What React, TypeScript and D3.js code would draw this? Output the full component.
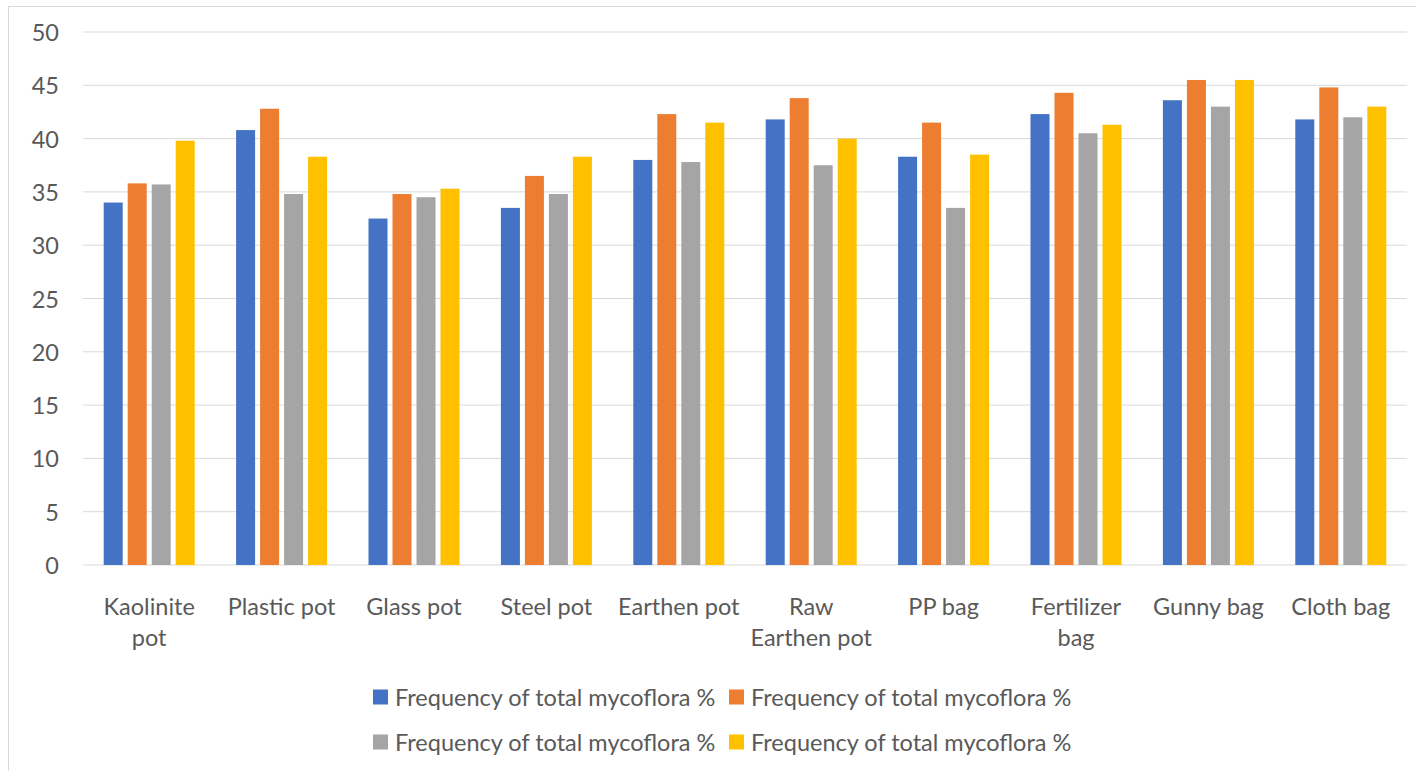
import React from "react";
import * as d3 from "d3";

const categories = [
  "Kaolinite\npot",
  "Plastic pot",
  "Glass pot",
  "Steel pot",
  "Earthen pot",
  "Raw\nEarthen pot",
  "PP bag",
  "Fertilizer\nbag",
  "Gunny bag",
  "Cloth bag",
];

const seriesNames = [
  "Frequency of total mycoflora %",
  "Frequency of total mycoflora %",
  "Frequency of total mycoflora %",
  "Frequency of total mycoflora %",
];

const series1 = [34.0, 40.8, 32.5, 33.5, 38.0, 41.8, 38.3, 42.3, 43.6, 41.8];
const series2 = [35.8, 42.8, 34.8, 36.5, 42.3, 43.8, 41.5, 44.3, 45.5, 44.8];
const series3 = [35.7, 34.8, 34.5, 34.8, 37.8, 37.5, 33.5, 40.5, 43.0, 42.0];
const series4 = [39.8, 38.3, 35.3, 38.3, 41.5, 40.0, 38.5, 41.3, 45.5, 43.0];

const yTicks = [0, 5, 10, 15, 20, 25, 30, 35, 40, 45, 50];

const colors = ["#4472C4", "#ED7D31", "#A5A5A5", "#FFC000"];

const W = 1416;
const H = 771;
const FONT = "Lato, 'Open Sans', sans-serif";
const TEXT = "#595959";
const FS = 23.5;

export default function App() {
  const allSeries = [series1, series2, series3, series4];
  const plotLeft = 83;
  const plotRight = 1407;
  const x = d3.scaleBand<string>().domain(categories).range([plotLeft, plotRight]).padding(0);
  const y = d3.scaleLinear().domain([0, 50]).range([565, 32]);
  const groupW = 91;
  const x1 = d3
    .scaleBand<number>()
    .domain([0, 1, 2, 3])
    .range([0, groupW])
    .paddingInner(5 / 24)
    .paddingOuter(0);

  return (
    <svg
      width={W}
      height={H}
      style={{ position: "absolute", left: 0, top: 0, background: "#fff" }}
      fontFamily={FONT}
    >
      <rect x={8.5} y={6.5} width={W} height={H} fill="#fff" stroke="#D9D9D9" strokeWidth={1} />
      {yTicks.map((t) => (
        <g key={t}>
          <line x1={plotLeft} x2={plotRight} y1={y(t)} y2={y(t)} stroke="#D9D9D9" strokeWidth={1} />
          <text
            x={59}
            y={y(t)}
            textAnchor="end"
            dominantBaseline="central"
            fontSize={FS}
            fill={TEXT}
          >
            {t}
          </text>
        </g>
      ))}
      {categories.map((c, i) => {
        const cx = (x(c) as number) + x.bandwidth() / 2;
        const g0 = cx - groupW / 2;
        return (
          <g key={c}>
            {allSeries.map((s, k) => (
              <rect
                key={k}
                x={g0 + (x1(k) as number)}
                y={y(s[i])}
                width={x1.bandwidth()}
                height={y(0) - y(s[i])}
                fill={colors[k]}
              />
            ))}
            {c.split("\n").map((line, j) => (
              <text
                key={j}
                x={cx}
                y={606 + j * 31}
                textAnchor="middle"
                dominantBaseline="central"
                fontSize={FS}
                fill={TEXT}
              >
                {line}
              </text>
            ))}
          </g>
        );
      })}
      {seriesNames.map((name, k) => {
        const col = k % 2;
        const row = Math.floor(k / 2);
        const lx = 373 + col * 356;
        const ly = 697 + row * 45;
        return (
          <g key={k}>
            <rect x={lx} y={ly - 7.5} width={15} height={15} fill={colors[k]} />
            <text x={lx + 22} y={ly} dominantBaseline="central" fontSize={FS} fill={TEXT}>
              {name}
            </text>
          </g>
        );
      })}
    </svg>
  );
}
